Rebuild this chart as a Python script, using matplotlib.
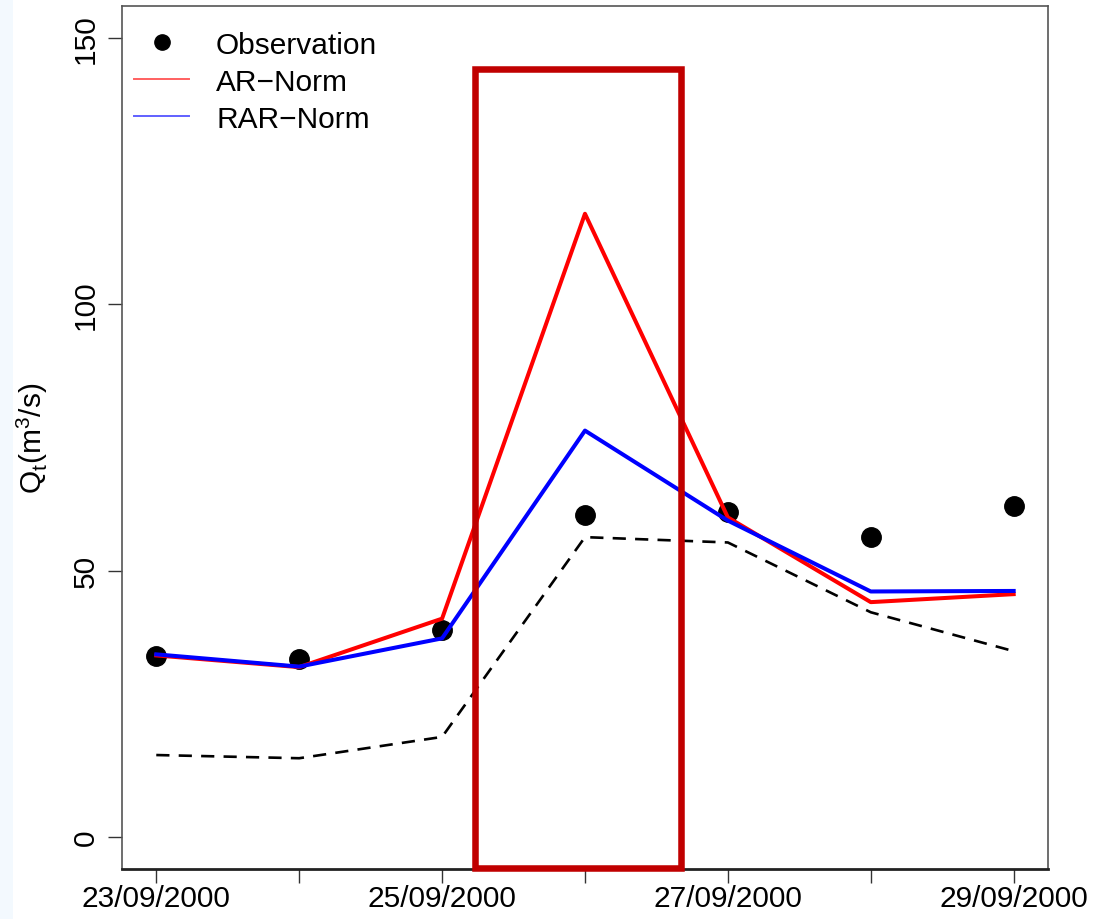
import matplotlib.pyplot as plt
from matplotlib.lines import Line2D
from matplotlib.patches import Rectangle

plt.rcParams["font.family"] = ["Liberation Sans", "DejaVu Sans"]

# daily discharge, 23/09/2000 .. 29/09/2000
days = [0, 1, 2, 3, 4, 5, 6]
tick_labels = ["23/09/2000", "", "25/09/2000", "", "27/09/2000", "", "29/09/2000"]
observed = [33.9, 33.5, 38.8, 60.5, 61.1, 56.3, 62.1]
ar_norm = [34.1, 31.9, 41.0, 117.0, 60.0, 44.1, 45.6]
rar_norm = [34.3, 32.0, 37.3, 76.3, 59.4, 46.1, 46.2]
baseline = [15.4, 14.8, 18.8, 56.3, 55.3, 42.2, 34.9]

# highlighted window around the peak (day units, discharge units)
box_x = (2.23, 3.67)
box_y = (-5.8, 144.2)

fig = plt.figure(figsize=(10.93, 9.2), dpi=100)
fig.patch.set_facecolor("white")
fig.add_artist(Rectangle((0, 0), 0.012, 1, transform=fig.transFigure,
                         facecolor="#f3f9fe", edgecolor="none", zorder=0))
ax = fig.add_axes([0.1116, 0.0543, 0.8472, 0.9381])

ax.plot(days, observed, "o", color="black", markersize=14, zorder=2)
ax.plot(days, baseline, color="black", lw=1.9, dashes=(5, 3.5), zorder=3)
ax.plot(days, ar_norm, color="#ff0000", lw=2.9, zorder=4)
ax.plot(days, rar_norm, color="#0000ff", lw=2.9, zorder=5)

ax.add_patch(Rectangle((box_x[0], box_y[0]), box_x[1] - box_x[0], box_y[1] - box_y[0],
                       fill=False, edgecolor="#c00000", lw=4.7, zorder=6, clip_on=False))

ax.set_xlim(-0.24, 6.24)
ax.set_ylim(-6, 156)
ax.set_xticks(days)
ax.set_xticklabels(tick_labels, fontsize=21.5)
ax.set_yticks([0, 50, 100, 150])
ax.set_yticklabels(["0", "50", "100", "150"], fontsize=21.5, rotation=90, va="center")
ax.tick_params(axis="both", direction="out", length=10, width=1.0, color="#333333", pad=6)
ax.tick_params(axis="x", pad=1)
ax.set_ylabel(r"Q$_\mathregular{t}$(m$^\mathregular{3}$/s)", fontsize=21.5, labelpad=16)
for side in ax.spines.values():
    side.set_color("#555555")
    side.set_linewidth(1.2)
ax.spines["bottom"].set_color("#222222")
ax.spines["bottom"].set_linewidth(2.0)

handles = [
    Line2D([], [], marker="o", color="black", linestyle="none", markersize=11),
    Line2D([], [], color="#ff6060", lw=1.4),
    Line2D([], [], color="#6060ff", lw=1.4),
]
ax.legend(handles, ["Observation", "AR\u2212Norm", "RAR\u2212Norm"], loc="upper left",
          frameon=False, fontsize=21.5, handlelength=1.85, handletextpad=0.9,
          labelspacing=0.3, borderaxespad=0.0, bbox_to_anchor=(0.0, 0.985))

fig.savefig("out.png", dpi=100)
